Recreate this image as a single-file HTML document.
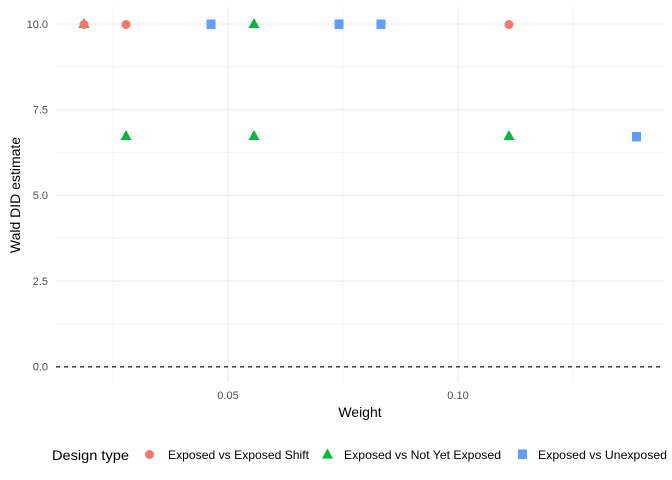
<!DOCTYPE html>
<html><head><meta charset="utf-8"><style>
html,body{margin:0;padding:0;background:#fff;}
svg{display:block;font-family:"Liberation Sans",Arial,sans-serif;}
</style></head><body>
<svg width="672" height="480" viewBox="0 0 672 480">
<rect width="672" height="480" fill="#fff"/>
<g stroke="#ebebeb" stroke-width="0.55">
<line x1="56" x2="664" y1="66.8" y2="66.8"/>
<line x1="56" x2="664" y1="152.5" y2="152.5"/>
<line x1="56" x2="664" y1="238.2" y2="238.2"/>
<line x1="56" x2="664" y1="324" y2="324"/>
<line x1="113" x2="113" y1="7" y2="382"/>
<line x1="343" x2="343" y1="7" y2="382"/>
<line x1="573" x2="573" y1="7" y2="382"/>
</g>
<g stroke="#ebebeb" stroke-width="1.1">
<line x1="56" x2="664" y1="24" y2="24"/>
<line x1="56" x2="664" y1="109.7" y2="109.7"/>
<line x1="56" x2="664" y1="195.4" y2="195.4"/>
<line x1="56" x2="664" y1="281.1" y2="281.1"/>
<line x1="56" x2="664" y1="366.8" y2="366.8"/>
<line x1="228" x2="228" y1="7" y2="382"/>
<line x1="458" x2="458" y1="7" y2="382"/>
</g>
<line x1="56" x2="664" y1="366.8" y2="366.8" stroke="#000" stroke-width="1.1" stroke-dasharray="4,4"/>
<g font-size="11" fill="#4d4d4d" text-anchor="end">
<text x="48" y="28">10.0</text>
<text x="48" y="113.5">7.5</text>
<text x="48" y="199">5.0</text>
<text x="48" y="285">2.5</text>
<text x="48" y="370.5">0.0</text>
</g>
<g font-size="11" fill="#4d4d4d" text-anchor="middle">
<text x="228" y="399">0.05</text>
<text x="458" y="399">0.10</text>
</g>
<text x="360" y="417" font-size="14" text-anchor="middle" fill="#000">Weight</text>
<text transform="translate(20,195) rotate(-90)" font-size="14" text-anchor="middle" fill="#000">Wald DID estimate</text>
<g fill="#00ba38">
<polygon points="84,18 89.5,28 78.5,28"/>
<polygon points="254,18 259.5,28 248.5,28"/>
<polygon points="126,130 131.5,140 120.5,140"/>
<polygon points="254,130 259.5,140 248.5,140"/>
<polygon points="509,130 514.5,140 503.5,140"/>
</g>
<g fill="#f8766d">
<circle cx="84" cy="24.5" r="4.5"/>
<circle cx="126" cy="24.5" r="4.5"/>
<circle cx="509" cy="24.5" r="4.5"/>
</g>
<g fill="#619cff">
<rect x="206.5" y="19.5" width="9" height="9.5"/>
<rect x="334.5" y="19.5" width="9" height="9.5"/>
<rect x="376.5" y="19.5" width="9" height="9.5"/>
<rect x="632" y="132" width="9" height="9.5"/>
</g>
<text x="52" y="460" font-size="14" fill="#000" textLength="77" lengthAdjust="spacingAndGlyphs">Design type</text>
<circle cx="149.5" cy="454.5" r="4.5" fill="#f8766d"/>
<text x="168" y="459" font-size="12" fill="#000" textLength="141" lengthAdjust="spacingAndGlyphs">Exposed vs Exposed Shift</text>
<polygon points="327.5,448.5 333,458.5 322,458.5" fill="#00ba38"/>
<text x="344" y="459" font-size="12" fill="#000" textLength="157" lengthAdjust="spacingAndGlyphs">Exposed vs Not Yet Exposed</text>
<rect x="518" y="449.5" width="9" height="9.5" fill="#619cff"/>
<text x="538" y="459" font-size="12" fill="#000" textLength="129" lengthAdjust="spacingAndGlyphs">Exposed vs Unexposed</text>
</svg>
</body></html>
